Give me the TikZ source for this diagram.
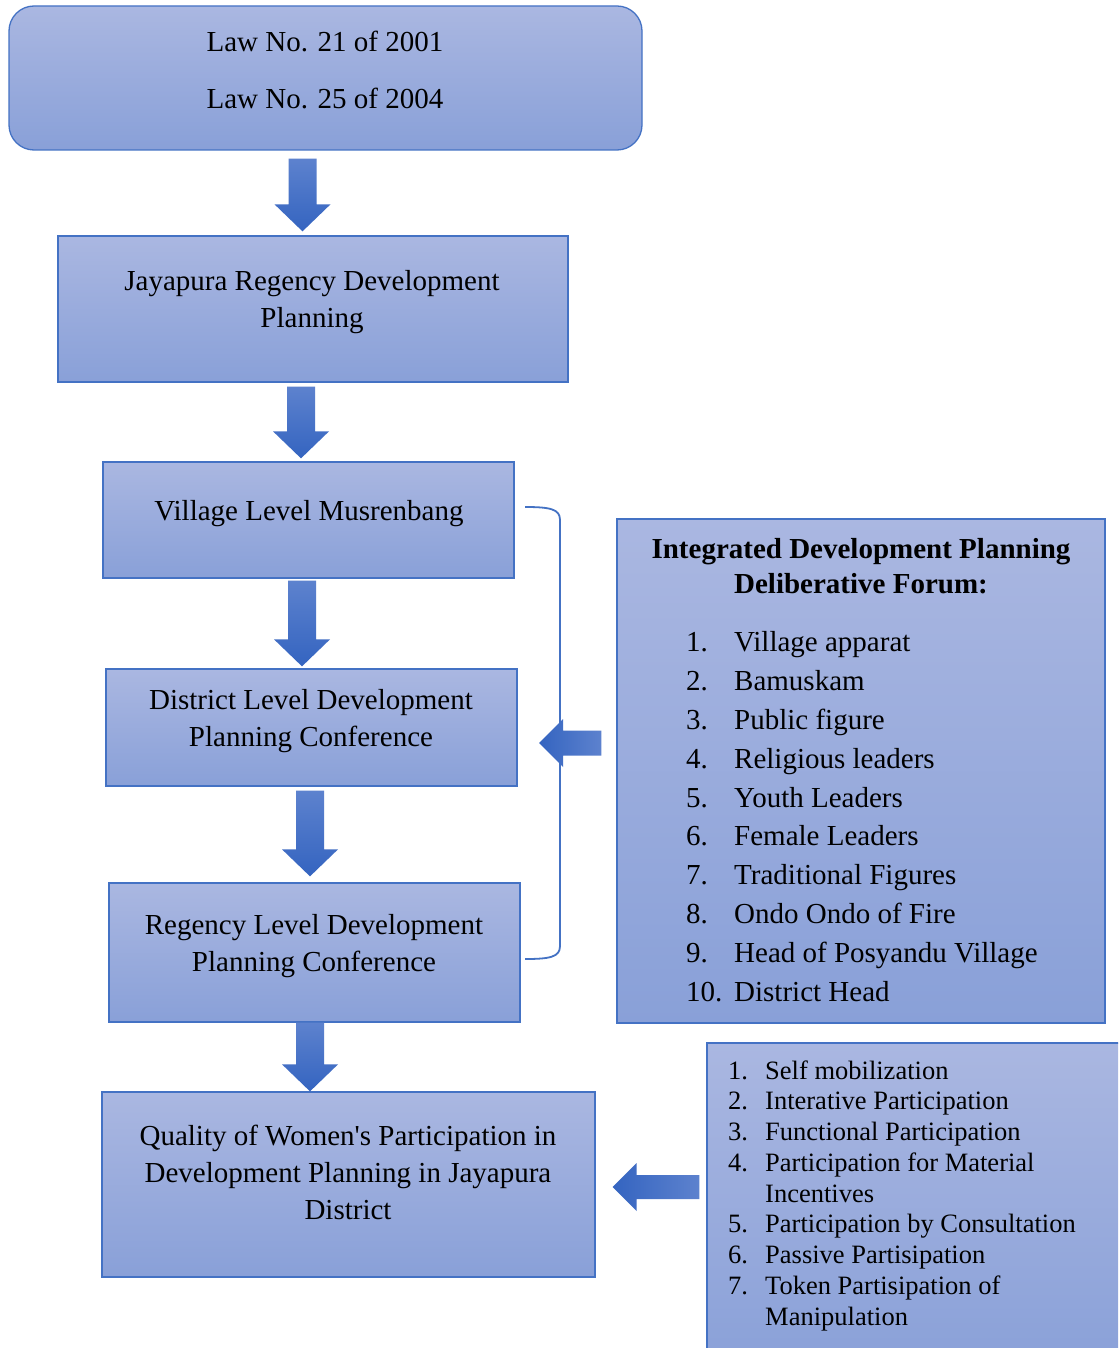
\documentclass[tikz,border=0pt]{standalone}
\usepackage{fontspec}
\setmainfont{Liberation Serif}
\usetikzlibrary{calc}
\definecolor{boxtop}{RGB}{170,183,225}
\definecolor{boxbot}{RGB}{137,160,216}
\definecolor{boxline}{RGB}{68,114,196}
\definecolor{arrlight}{RGB}{93,130,206}
\definecolor{arrdark}{RGB}{52,100,192}
\tikzset{
  box/.style={draw=boxline, line width=1.3pt, top color=boxtop, bottom color=boxbot, inner sep=0pt},
  txt/.style={font=\fontsize{29}{37}\selectfont, align=center, inner sep=0pt, anchor=base},
  listtxt/.style={font=\fontsize{29}{38.8}\selectfont, align=left, inner sep=0pt, anchor=base west},
  smalllist/.style={font=\fontsize{26.5}{30.75}\selectfont, align=left, inner sep=0pt, anchor=base west},
  downshade/.style={top color=arrlight, bottom color=arrdark, draw=none},
  leftshade/.style={left color=arrdark, right color=arrlight, draw=none},
  bracket/.style={draw=boxline, line width=1.8pt}
}
% #1 x, #2 start anchor, #3 end anchor, #4 top gap, #5 tip gap
\newcommand\blkdown[5]{%
  \path[downshade] let \p1=(#1,0 |- #2), \p2=(#1,0 |- #3) in
    (\x1-14pt,\y1-#4) -- (\x1+14pt,\y1-#4) -- (\x1+14pt,\y2+#5+27pt) -- (\x1+28pt,\y2+#5+27pt)
    -- (\x1,\y2+#5) -- (\x1-28pt,\y2+#5+27pt) -- (\x1-14pt,\y2+#5+27pt) -- cycle;}
% #1 y, #2 start anchor (right), #3 end anchor (left), #4 start gap, #5 tip gap, #6 shaft half, #7 head half, #8 head length
\newcommand\blkleft[8]{%
  \path[leftshade] let \p1=(#2 |- 0,#1), \p2=(#3 |- 0,#1) in
    (\x1-#4,\y1+#6) -- (\x1-#4,\y1-#6) -- (\x2+#5+#8,\y1-#6) -- (\x2+#5+#8,\y1-#7)
    -- (\x2+#5,\y1) -- (\x2+#5+#8,\y1+#7) -- (\x2+#5+#8,\y1+#6) -- cycle;}
\begin{document}
\begin{tikzpicture}[x=1pt,y=-1pt]
\clip (0,0) rectangle (1118,1348);
\fill[white] (0,0) rectangle (1118,1348);

% boxes
\node[box, rounded corners=25pt, minimum width=633pt, minimum height=144pt] (law) at (325.5,78) {};
\node[box, minimum width=510pt, minimum height=146pt] (jay) at (313,309) {};
\node[box, minimum width=411pt, minimum height=116pt] (village) at (308.5,520) {};
\node[box, minimum width=411pt, minimum height=117pt] (district) at (311.5,727.5) {};
\node[box, minimum width=411pt, minimum height=139pt] (regency) at (314.5,952.5) {};
\node[box, minimum width=493pt, minimum height=185pt] (quality) at (348.5,1184.5) {};
\node[box, minimum width=488pt, minimum height=504pt] (idbox) at (861,771) {};
\node[box, minimum width=430pt, minimum height=330pt] (brbox) at (922,1208) {};

% texts (base anchor = baseline of the last line)
\node[txt] (lawt1) at (325,52) {Law No. 21 of 2001};
\node[txt] (lawt2) at (325,109) {Law No. 25 of 2004};
\node[txt] (jayt) at (312,327) {Jayapura Regency Development\\Planning};
\node[txt] (villaget) at (309,520) {Village Level Musrenbang};
\node[txt] (districtt) at (311,746) {District Level Development\\Planning Conference};
\node[txt] (regencyt) at (314,971) {Regency Level Development\\Planning Conference};
\node[txt] (qualityt) at (348,1219) {Quality of Women\textquotesingle s Participation in\\Development Planning in Jayapura\\District};
\node[txt, font=\fontsize{29}{35}\selectfont\bfseries] (idtitle) at (861,593) {Integrated Development Planning\\Deliberative Forum:};
\node[listtxt] (idlist) at (686,1001) {%
\makebox[48pt][l]{1.}Village apparat\\
\makebox[48pt][l]{2.}Bamuskam\\
\makebox[48pt][l]{3.}Public figure\\
\makebox[48pt][l]{4.}Religious leaders\\
\makebox[48pt][l]{5.}Youth Leaders\\
\makebox[48pt][l]{6.}Female Leaders\\
\makebox[48pt][l]{7.}Traditional Figures\\
\makebox[48pt][l]{8.}Ondo Ondo of Fire\\
\makebox[48pt][l]{9.}Head of Posyandu Village\\
\makebox[48pt][l]{10.}District Head};
\node[smalllist] (brlist) at (728,1325) {%
\makebox[37pt][l]{1.}Self mobilization\\
\makebox[37pt][l]{2.}Interative Participation\\
\makebox[37pt][l]{3.}Functional Participation\\
\makebox[37pt][l]{4.}Participation for Material\\
\makebox[37pt][l]{}Incentives\\
\makebox[37pt][l]{5.}Participation by Consultation\\
\makebox[37pt][l]{6.}Passive Partisipation\\
\makebox[37pt][l]{7.}Token Partisipation of\\
\makebox[37pt][l]{}Manipulation};

% down arrows
\blkdown{302.5}{law.south}{jay.north}{8pt}{4pt}
\blkdown{301}{jay.south}{village.north}{4pt}{3pt}
\blkdown{302}{village.south}{district.north}{2pt}{2pt}
\blkdown{310}{district.south}{regency.north}{4pt}{6pt}
\blkdown{310}{regency.south}{quality.north}{0pt}{0pt}

% bracket
\coordinate (brtop) at (525,507);
\coordinate (brbot) at (525,959);
\coordinate (brmid) at (539,743);
\draw[bracket] (brtop) .. controls (550,507) and (560,509) .. (560,520) -- (560,946)
  .. controls (560,957) and (550,959) .. (brbot);

% left arrows
\blkleft{743}{idbox.west}{brmid}{15pt}{0pt}{12.5pt}{24pt}{24pt}
\blkleft{1187}{brbox.west}{quality.east}{7pt}{17pt}{12pt}{24pt}{24pt}
\end{tikzpicture}
\end{document}
